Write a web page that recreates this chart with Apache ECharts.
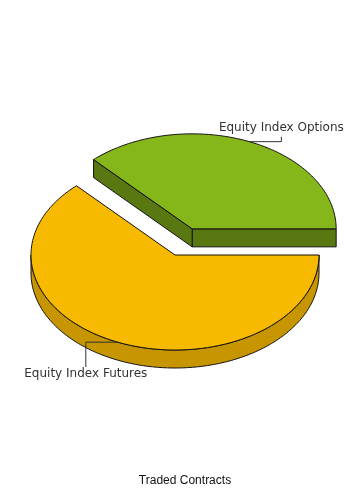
<!DOCTYPE html>
<html>
<head>
<meta charset="utf-8">
<script src="https://cdn.jsdelivr.net/npm/echarts@6/dist/echarts.min.js"></script>
<style>
  html, body { margin: 0; padding: 0; background: #fff; }
  #chart { width: 355px; height: 493px; }
</style>
</head>
<body>
<div id="chart"></div>
<script>
// Data
const categories = ['Equity Index Options', 'Equity Index Futures'];
const values = [37, 63];
const explodedSlices = [true, false];
const chartTitle = 'Traded Contracts';

// Styles
const topColors = ['#86B71A', '#F7BA00'];
const sideColors = ['#5A7811', '#C69500'];
const OUTLINE = '#111';

// Layout of the tilted pie
const CX = 175, CY = 255;       // centre of the top face
const RX = 144, RY = 95;        // radii of the top ellipse
const DEPTH = 18;               // thickness of the disc
const EXPLODE = 0.3;            // pull-out distance, fraction of radius
const START_ANGLE = 0;          // degrees, counter-clockwise from 3 o'clock
const LEADER_RUN = 32;          // horizontal run of label leaders

const rad = d => d * Math.PI / 180;

// Slice geometry derived from the values
const total = values.reduce((a, b) => a + b, 0);
const slices = [];
(function () {
  let acc = START_ANGLE;
  values.forEach((v, i) => {
    const a0 = acc, a1 = acc + v / total * 360;
    acc = a1;
    const mid = (a0 + a1) / 2;
    const ox = explodedSlices[i] ? EXPLODE * RX * Math.cos(rad(mid)) : 0;
    const oy = explodedSlices[i] ? -EXPLODE * RY * Math.sin(rad(mid)) : 0;
    slices.push({ a0, a1, mid, ox, oy });
  });
})();

const topExtent = Math.min(...slices.map(s => CY + s.oy - RY));
const bottomExtent = Math.max(...slices.map(s => CY + s.oy + RY + DEPTH));

function edge(s, a, dy) {
  return [CX + s.ox + RX * Math.cos(rad(a)), CY + s.oy - RY * Math.sin(rad(a)) + (dy || 0)];
}
function arc(s, b0, b1, dy) {
  const n = Math.max(2, Math.ceil(Math.abs(b1 - b0) / 1) + 1);
  const pts = [];
  for (let k = 0; k < n; k++) pts.push(edge(s, b0 + (b1 - b0) * k / (n - 1), dy));
  return pts;
}

function renderItem(params, api) {
  const i = params.dataIndex;
  const s = slices[i];
  const c = [CX + s.ox, CY + s.oy];
  const front = Math.sin(rad(s.mid)) < 0 ? 10 : 0;
  const children = [];
  const faceStyle = fill => ({ fill: fill, stroke: OUTLINE, lineWidth: 1, lineJoin: 'round' });

  // Cut faces (visible when their outward normal points toward the viewer)
  [[s.a0, s.a0 - 90], [s.a1, s.a1 + 90]].forEach(([a, n]) => {
    if (Math.sin(rad(n)) < -1e-6) {
      const e = edge(s, a);
      children.push({
        type: 'polygon', z2: front + 1,
        shape: { points: [c, e, [e[0], e[1] + DEPTH], [c[0], c[1] + DEPTH]] },
        style: faceStyle(sideColors[i])
      });
    }
  });

  // Outer wall: the part of the rim on the near half of the ellipse
  [[180, 360], [540, 720]].forEach(([lo, hi]) => {
    const b0 = Math.max(lo, s.a0), b1 = Math.min(hi, s.a1);
    if (b1 > b0) {
      const topArc = arc(s, b0, b1, 0);
      const botArc = arc(s, b1, b0, DEPTH);
      children.push({
        type: 'polygon', z2: front + 2,
        shape: { points: topArc.concat(botArc) },
        style: faceStyle(sideColors[i])
      });
    }
  });

  // Top face
  children.push({
    type: 'polygon', z2: front + 3,
    shape: { points: [c].concat(arc(s, s.a0, s.a1, 0)) },
    style: faceStyle(api.visual('color'))
  });

  // Label with elbow leader
  const upper = Math.sin(rad(s.mid)) > 0;
  const dir = Math.cos(rad(s.mid)) >= 0 ? 1 : -1;
  const p0 = edge(s, s.mid);
  const p1 = [p0[0] + dir * LEADER_RUN, p0[1]];
  const endY = upper ? topExtent + 3 : bottomExtent - 1;
  const p2 = [p1[0], endY];
  children.push({
    type: 'polyline', z2: 50,
    shape: { points: [p0, p1, p2] },
    style: { stroke: '#333', lineWidth: 1, fill: null }
  });
  children.push({
    type: 'text', z2: 60,
    x: p2[0], y: upper ? endY - 9 : endY + 7,
    style: {
      text: categories[i],
      fill: '#333',
      font: '12px "DejaVu Sans"',
      align: 'center',
      verticalAlign: 'middle'
    }
  });

  return { type: 'group', children: children };
}

const chart = echarts.init(document.getElementById('chart'), null, { renderer: 'canvas' });
chart.setOption({
  animation: false,
  backgroundColor: '#fff',
  title: {
    text: chartTitle,
    left: 185,
    top: 475,
    textAlign: 'center',
    padding: 0,
    textStyle: { fontFamily: 'Liberation Sans', fontSize: 12, fontWeight: 'normal', color: '#111' }
  },
  series: [{
    type: 'custom',
    coordinateSystem: 'none',
    renderItem: renderItem,
    data: values.map((v, i) => ({ name: categories[i], value: v, itemStyle: { color: topColors[i] } }))
  }]
});
</script>
</body>
</html>
